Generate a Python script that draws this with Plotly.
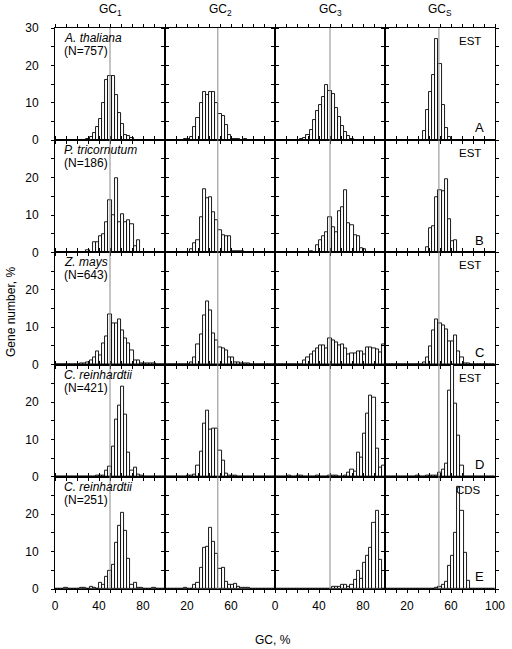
import plotly.graph_objects as go
from plotly.subplots import make_subplots

N_BINS = 35
gc_bins = [(i + 0.5) * 100 / N_BINS for i in range(N_BINS)]


def pad(start, vals):
    out = [0.0] * N_BINS
    for k, v in enumerate(vals):
        out[start + k] = v
    return out

# ---- data (gene number, % per GC bin) ----
at_gc1 = pad(10, [0.4, 0.8, 2, 3.6, 5.7, 10, 16, 17.3, 17.3, 12, 7.2, 4.2, 1.4, 1.0, 0.5])
at_gc2 = pad(6, [0.2, 0.3, 0.8, 3.6, 5.9, 10, 13, 12.2, 13, 13, 10, 7, 6.6, 4.1, 1.4, 0.4, 0.2, 0.2, 0, 0.2])
at_gc3 = pad(8, [0.3, 0.6, 1.3, 2.8, 5.5, 7.7, 9.5, 11.5, 14.7, 13.2, 12.3, 8.7, 6.3, 3.8, 2.3, 1.0, 0.4])
at_gcs = pad(12, [2.5, 8, 13, 17.5, 27, 20.5, 9.5, 3.2, 0.8])

pt_gc1 = pad(10, [0.5, 0, 2.7, 2.7, 4.3, 4.8, 8.1, 14, 10, 19.9, 8, 10.2, 8, 8.6, 7.5, 1.6, 3.2])
pt_gc2 = pad(8, [0.9, 2.5, 3.3, 9.5, 17, 14.4, 14.7, 10.7, 8.6, 6, 4.6, 4.4, 4.4, 0.4, 0.3, 0.3, 0.3])
pt_gc3 = pad(11, [0.3, 0, 1.8, 3.3, 4.2, 5.5, 9.3, 6.7, 5.5, 11, 12, 16.7, 7.7, 7.3, 4.6, 4.2, 1.1, 0.9])
pt_gcs = pad(13, [1.4, 6.4, 7, 14.7, 16.7, 16.3, 19.6, 8.8, 3.1, 3.3])

zm_gc1 = pad(8, [0.3, 0.4, 0.5, 1.0, 2.0, 3.4, 2.5, 5.6, 7.5, 13.4, 11, 11, 12.2, 9.1, 6.9, 5.6, 3.8, 1.1, 1.1, 0.4, 0.3, 0.2, 0.3, 0.2])
zm_gc2 = pad(8, [0.7, 1.9, 5.3, 8.1, 13.1, 17, 14.6, 8.4, 6.6, 4.7, 4.2, 3.8, 2, 2, 0.7, 0.7, 0.3, 0.4, 0.4])
zm_gc3 = pad(9, [1.2, 1.8, 2.6, 3.4, 4.4, 5.1, 5.1, 4.3, 6.9, 6.4, 6.0, 5.1, 5.3, 4.4, 2.7, 3.1, 3.1, 3.4, 3.4, 2.7, 4.5, 4.5, 4.4, 4.0, 3.2, 5.4])
zm_gcs = pad(12, [0.7, 2, 4.9, 9.1, 12.2, 10.9, 10.4, 9.3, 6.3, 6.2, 7.8, 3.4, 2, 0.4, 0.2])

cr_est_gc1 = pad(13, [0.3, 0.3, 0.3, 1.7, 2.6, 8, 15.3, 19, 24.2, 16.6, 6.6, 1.6, 2.5, 0.5, 0.2])
cr_est_gc2 = pad(7, [0.2, 0.2, 0.7, 2.9, 6.8, 14.2, 17.7, 12.5, 12.9, 12.9, 7, 4.3, 0.9, 0.3, 0.3, 0.3])
cr_est_gc3 = pad(4, [0.2, 0, 0, 0.3, 0.3, 0, 0, 0, 0, 0.3, 0, 0, 0, 0.2, 0.3, 0.2, 0, 0, 0.4, 1.0, 1.8, 1.3, 6.5, 5.1, 11.5, 16.8, 21.7, 21.2, 7.5, 2.5, 3.1])
cr_est_gcs = pad(10, [0.2, 0, 0, 0.3, 0.3, 0.4, 0.4, 1.0, 1.8, 3.6, 23, 35, 19.5, 11, 3])

cr_cds_gc1 = pad(3, [0.2, 0, 0, 0, 0, 0.35, 0.35, 0, 0.7, 0.3, 0, 1.7, 1.2, 3.3, 4.9, 6.6, 12.3, 16.8, 20.3, 15.5, 8.2, 1.0, 1.6, 0.3, 0.3, 0, 0, 0, 0.4])
cr_cds_gc2 = pad(6, [0.35, 0, 0, 1.1, 1.6, 5.7, 11.1, 11.4, 16.4, 12.7, 9.5, 5.5, 5.7, 1.8, 1.2, 1.1, 1.4, 0.5, 0.35, 0.35, 0.35])
cr_cds_gc3 = pad(18, [0.5, 0.5, 0.5, 1.0, 1.0, 0.5, 1.0, 2.4, 4.9, 2.6, 7.0, 8.8, 11.1, 17.7, 21.0, 7.9])
cr_cds_gcs = pad(16, [0.3, 0.5, 1.1, 1.8, 6.2, 8.8, 15.1, 27.4, 21, 9.7, 2.3])

panels = [
    [at_gc1, at_gc2, at_gc3, at_gcs],
    [pt_gc1, pt_gc2, pt_gc3, pt_gcs],
    [zm_gc1, zm_gc2, zm_gc3, zm_gcs],
    [cr_est_gc1, cr_est_gc2, cr_est_gc3, cr_est_gcs],
    [cr_cds_gc1, cr_cds_gc2, cr_cds_gc3, cr_cds_gcs],
]
species = ["A. thaliana", "P. tricornutum", "Z. mays", "C. reinhardtii", "C. reinhardtii"]
counts = ["(N=757)", "(N=186)", "(N=643)", "(N=421)", "(N=251)"]
sources = ["EST", "EST", "EST", "EST", "CDS"]
letters = ["A", "B", "C", "D", "E"]
column_titles = ["GC<sub>1</sub>", "GC<sub>2</sub>", "GC<sub>3</sub>", "GC<sub>S</sub>"]
ref_lines = [50, 48, 50, 49]
x_tick_labels = [
    {0: "0", 40: "40", 80: "80"},
    {20: "20", 60: "60"},
    {0: "0", 40: "40", 80: "80"},
    {20: "20", 60: "60", 100: "100"},
]
y_tick_vals = [0, 5, 10, 15, 20, 25, 30]

FONT = "Liberation Sans, Arial, Helvetica, sans-serif"
W, H = 512, 649
ML, MR, MT, MB = 55, 7, 28, 60
plot_w = W - ML - MR
plot_h = H - MT - MB


def px2x(px):
    return (px - ML) / plot_w


def py2y(py):
    return (MT + plot_h - py) / plot_h


fig = make_subplots(rows=5, cols=4, horizontal_spacing=0, vertical_spacing=0)

for r in range(5):
    for c in range(4):
        fig.add_trace(
            go.Bar(
                x=gc_bins, y=panels[r][c], width=100 / N_BINS,
                marker=dict(color="white", line=dict(color="black", width=0.9)),
                showlegend=False, hoverinfo="skip",
            ),
            row=r + 1, col=c + 1,
        )
        n = r * 4 + c + 1
        sfx = "" if n == 1 else str(n)
        fig.add_shape(
            type="line", x0=ref_lines[c], x1=ref_lines[c], y0=0, y1=1,
            xref="x" + sfx, yref="y" + sfx + " domain",
            line=dict(color="#8a8a8a", width=1), layer="above",
        )
        xt = list(range(0, 101, 10))
        fig.update_xaxes(
            range=[0, 100], tickvals=xt,
            ticktext=[x_tick_labels[c].get(v, " ") for v in xt],
            showticklabels=(r == 4), ticks="outside", ticklen=3, tickwidth=1,
            tickcolor="black", showline=True, linecolor="black", linewidth=1,
            mirror="ticks", showgrid=False, zeroline=False, tickangle=0,
            tickfont=dict(family=FONT, size=12, color="black"),
            ticklabelstandoff=3,
            row=r + 1, col=c + 1,
        )
        ytext = ["0", " ", "10", " ", "20", " ", "30" if r == 0 else " "]
        fig.update_yaxes(
            range=[0, 30], tickvals=y_tick_vals, ticktext=ytext,
            showticklabels=(c == 0), ticks="outside", ticklen=3, tickwidth=1,
            tickcolor="black", showline=True, linecolor="black", linewidth=1,
            mirror="ticks", showgrid=False, zeroline=False,
            tickfont=dict(family=FONT, size=12, color="black"),
            ticklabelstandoff=10,
            row=r + 1, col=c + 1,
        )

ann = []
col_w = 1 / 4
for c in range(4):
    ann.append(dict(text=column_titles[c], x=(c + 0.5) * col_w, y=py2y(10), xref="paper", yref="paper",
                    xanchor="center", yanchor="middle", showarrow=False,
                    font=dict(family=FONT, size=12, color="black")))

for r in range(5):
    n1 = r * 4 + 1
    n4 = r * 4 + 4
    sx1 = "" if n1 == 1 else str(n1)
    ann.append(dict(text="<i>" + species[r] + "</i>", x=0.06, y=0.91,
                    xref="x" + sx1 + " domain", yref="y" + sx1 + " domain",
                    xanchor="left", yanchor="middle", showarrow=False,
                    font=dict(family=FONT, size=12, color="black")))
    ann.append(dict(text=counts[r], x=0.06, y=0.795,
                    xref="x" + sx1 + " domain", yref="y" + sx1 + " domain",
                    xanchor="left", yanchor="middle", showarrow=False,
                    font=dict(family=FONT, size=12, color="black")))
    ann.append(dict(text=sources[r], x=0.895, y=0.885,
                    xref="x" + str(n4) + " domain", yref="y" + str(n4) + " domain",
                    xanchor="right", yanchor="middle", showarrow=False,
                    font=dict(family=FONT, size=11.5, color="black")))
    ann.append(dict(text=letters[r], x=0.915, y=0.11,
                    xref="x" + str(n4) + " domain", yref="y" + str(n4) + " domain",
                    xanchor="right", yanchor="middle", showarrow=False,
                    font=dict(family=FONT, size=13, color="black")))

ann.append(dict(text="Gene number, %", x=px2x(10), y=py2y(312),
                xref="paper", yref="paper", textangle=-90, showarrow=False,
                xanchor="center", yanchor="middle",
                font=dict(family=FONT, size=12, color="black")))
ann.append(dict(text="GC, %", x=px2x(278), y=py2y(640),
                xref="paper", yref="paper", showarrow=False,
                xanchor="center", yanchor="middle",
                font=dict(family=FONT, size=12, color="black")))

fig.update_layout(
    width=W, height=H, margin=dict(l=ML, r=MR, t=MT, b=MB),
    paper_bgcolor="white", plot_bgcolor="white",
    bargap=0, annotations=ann, showlegend=False,
)

# remove the browser's default 8px body margin so the figure fills the window
fig.write_html("out.html", config={"displayModeBar": False},
               post_script="document.body.style.margin='0px';")
